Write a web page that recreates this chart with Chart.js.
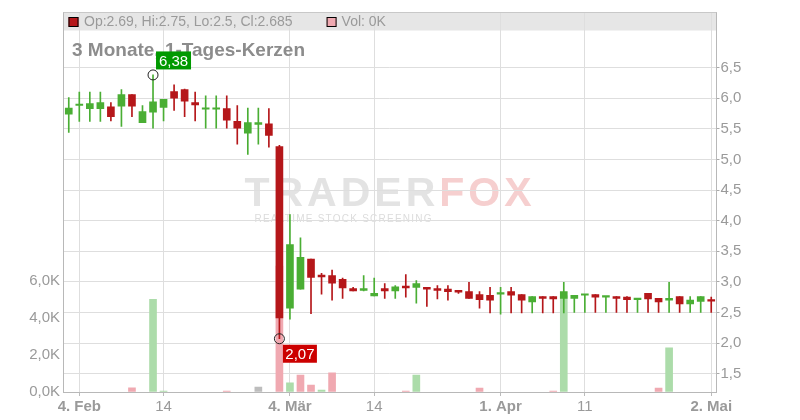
<!DOCTYPE html>
<html>
<head>
<meta charset="utf-8">
<script src="https://cdn.jsdelivr.net/npm/chart.js@4.4.0/dist/chart.umd.min.js"></script>
<style>
  html, body { margin: 0; padding: 0; background: #fff; }
  canvas { display: block; }
</style>
</head>
<body>
<canvas id="chart" width="800" height="420"></canvas>
<script>
// trading days (Xetra calendar, Feb 3 - May 2 2025)
const days = [
  '2025-02-03','2025-02-04','2025-02-05','2025-02-06','2025-02-07',
  '2025-02-10','2025-02-11','2025-02-12','2025-02-13','2025-02-14',
  '2025-02-17','2025-02-18','2025-02-19','2025-02-20','2025-02-21',
  '2025-02-24','2025-02-25','2025-02-26','2025-02-27','2025-02-28',
  '2025-03-03','2025-03-04','2025-03-05','2025-03-06','2025-03-07',
  '2025-03-10','2025-03-11','2025-03-12','2025-03-13','2025-03-14',
  '2025-03-17','2025-03-18','2025-03-19','2025-03-20','2025-03-21',
  '2025-03-24','2025-03-25','2025-03-26','2025-03-27','2025-03-28',
  '2025-03-31','2025-04-01','2025-04-02','2025-04-03','2025-04-04',
  '2025-04-07','2025-04-08','2025-04-09','2025-04-10','2025-04-11',
  '2025-04-14','2025-04-15','2025-04-16','2025-04-17',
  '2025-04-22','2025-04-23','2025-04-24','2025-04-25',
  '2025-04-28','2025-04-29','2025-04-30','2025-05-02'
];
const opens = [
  5.74, 5.88, 5.83, 5.83, 5.86,  5.87, 6.06, 5.60, 5.77, 5.85,
  6.11, 6.14, 5.93, 5.82, 5.82,  5.83, 5.62, 5.43, 5.57, 5.58,
  5.21, 2.57, 2.88, 3.37, 3.11,  3.10, 3.04, 2.89, 2.86, 2.77,
  2.89, 2.85, 2.93, 2.91, 2.91,  2.89, 2.88, 2.86, 2.84, 2.79,
  2.78, 2.80, 2.84, 2.79, 2.67,  2.76, 2.76, 2.73, 2.73, 2.78,
  2.79, 2.75, 2.76, 2.75,  2.71, 2.81, 2.73, 2.70,  2.76, 2.64, 2.68, 2.69
];
const highs = [
  6.01, 6.10, 6.10, 6.10, 5.93,  6.14, 6.06, 5.88, 6.38, 5.98,
  6.22, 6.15, 6.10, 6.04, 6.04,  6.04, 5.88, 5.84, 5.84, 5.83,
  5.23, 4.10, 3.72, 3.37, 3.14,  3.19, 3.06, 2.91, 3.10, 3.06,
  2.97, 2.94, 3.12, 3.02, 2.91,  2.94, 2.94, 2.86, 2.99, 2.84,
  2.91, 2.91, 2.91, 2.79, 2.76,  2.76, 2.76, 2.99, 2.78, 2.79,
  2.79, 2.76, 2.76, 2.76,  2.73, 2.81, 2.73, 2.99,  2.76, 2.76, 2.76, 2.75
];
const lows = [
  5.44, 5.62, 5.62, 5.62, 5.63,  5.54, 5.70, 5.60, 5.51, 5.63,
  5.80, 5.70, 5.63, 5.51, 5.51,  5.51, 5.25, 5.08, 5.25, 5.20,
  2.07, 2.39, 2.88, 2.48, 2.80,  2.70, 2.73, 2.85, 2.85, 2.77,
  2.73, 2.73, 2.75, 2.65, 2.60,  2.72, 2.70, 2.81, 2.73, 2.57,
  2.49, 2.47, 2.49, 2.49, 2.49,  2.49, 2.49, 2.49, 2.50, 2.50,
  2.50, 2.50, 2.50, 2.50,  2.50, 2.50, 2.50, 2.50,  2.50, 2.50, 2.50, 2.50
];
const closes = [
  5.84, 5.89, 5.91, 5.93, 5.70,  6.06, 5.87, 5.78, 5.94, 5.98,
  6.00, 5.95, 5.89, 5.83, 5.83,  5.64, 5.51, 5.60, 5.60, 5.39,
  2.41, 3.61, 3.40, 3.07, 3.08,  2.98, 2.90, 2.85, 2.89, 2.81,
  2.85, 2.92, 2.90, 2.97, 2.88,  2.86, 2.84, 2.83, 2.73, 2.71,
  2.70, 2.81, 2.78, 2.70, 2.76,  2.73, 2.72, 2.84, 2.78, 2.79,
  2.75, 2.76, 2.73, 2.71,  2.72, 2.72, 2.67, 2.73,  2.64, 2.70, 2.76, 2.685
];
const volumes = [
  0, 0, 0, 0, 0,  0, 230, 0, 5000, 50,
  0, 0, 0, 0, 0,  50, 0, 0, 270, 0,
  6800, 490, 920, 380, 100,  1030, 0, 0, 0, 0,
  0, 0, 50, 920, 0,  0, 0, 0, 0, 210,
  0, 0, 0, 0, 0,  0, 50, 5200, 0, 0,
  0, 0, 0, 0,  0, 0, 210, 2380,  0, 0, 0, 0
];

const tickDays = ['2025-02-04','2025-02-14','2025-03-04','2025-03-14','2025-04-01','2025-04-11','2025-05-02'];
const tickTexts = ['4. Feb','14','4. Mär','14','1. Apr','11','2. Mai'];
const priceTicks = [1.5, 2, 2.5, 3, 3.5, 4, 4.5, 5, 5.5, 6, 6.5];
const volumeTicks = [0, 2000, 4000, 6000];

const FONT = "'Liberation Sans', Arial, sans-serif";
const UP = '#4aae34', DOWN = '#b5171a';
const VOL_UP = '#acdcaa', VOL_DOWN = '#f0a9b1', VOL_FLAT = '#bdbdbd';
const TXT = '#9a9a9a';

const candleColors = closes.map((c, i) => c >= opens[i] ? UP : DOWN);
const volColors = closes.map((c, i) => i === 0 || c > closes[i - 1] ? VOL_UP : (c < closes[i - 1] ? VOL_DOWN : VOL_FLAT));

const hiIdx = highs.indexOf(Math.max(...highs));
const loIdx = lows.indexOf(Math.min(...lows));
const markers = days.map((d, i) => i === hiIdx ? highs[i] : (i === loIdx ? lows[i] : null));

const fmt = v => v.toFixed(2).replace('.', ',');

function badge(ctx, text, x, y, w, h, bg) {
  ctx.fillStyle = bg;
  ctx.fillRect(x, y, w, h);
  ctx.fillStyle = '#fff';
  ctx.font = '15px ' + FONT;
  ctx.textAlign = 'center';
  ctx.textBaseline = 'middle';
  ctx.fillText(text, x + w / 2, y + h / 2 + 1);
}

const decor = {
  id: 'decor',
  beforeDraw(chart) {
    const { ctx, chartArea: a } = chart;
    ctx.save();
    ctx.fillStyle = '#fff';
    ctx.fillRect(0, 0, chart.width, chart.height);

    // watermark
    const cx = (a.left + a.right) / 2, my = (a.top + a.bottom) / 2;
    ctx.font = 'bold 41px ' + FONT;
    ctx.letterSpacing = '4px';
    const w1 = ctx.measureText('TRADER').width, w2 = ctx.measureText('FOX').width;
    const x0 = cx - (w1 + w2) / 2;
    ctx.textAlign = 'left';
    ctx.textBaseline = 'alphabetic';
    ctx.fillStyle = '#e3e3e3';
    ctx.fillText('TRADER', x0, my + 4);
    ctx.fillStyle = '#f6cfcf';
    ctx.fillText('FOX', x0 + w1, my + 4);
    ctx.font = '10px ' + FONT;
    ctx.letterSpacing = '0px';
    const sw = ctx.measureText('REALTIME STOCK SCREENING').width;
    ctx.letterSpacing = ((177 - sw) / 23).toFixed(2) + 'px';
    ctx.fillStyle = '#dcdcdc';
    ctx.fillText('REALTIME STOCK SCREENING', x0 + 10, my + 20);
    ctx.letterSpacing = '0px';

    // legend band
    ctx.fillStyle = '#e6e6e6';
    ctx.fillRect(a.left, a.top, a.right - a.left, 18);
    ctx.restore();
  },
  afterDraw(chart) {
    const { ctx, chartArea: a, scales } = chart;
    const n = days.length - 1;
    ctx.save();
    // top border
    ctx.strokeStyle = '#c8c8c8';
    ctx.lineWidth = 1;
    ctx.beginPath();
    ctx.moveTo(a.left, Math.round(a.top) - 0.5);
    ctx.lineTo(a.right, Math.round(a.top) - 0.5);
    ctx.stroke();

    // legend content
    ctx.fillStyle = candleColors[n];
    ctx.fillRect(a.left + 5, a.top + 4.5, 10, 10);
    ctx.strokeStyle = '#000';
    ctx.strokeRect(a.left + 5.5, a.top + 5, 9, 9);
    ctx.font = '14px ' + FONT;
    ctx.textAlign = 'left';
    ctx.textBaseline = 'middle';
    ctx.fillStyle = TXT;
    const legTxt = 'Op:' + opens[n] + ', Hi:' + highs[n] + ', Lo:' + lows[n] + ', Cl:' + closes[n];
    const lx = a.left + 20.5;
    ctx.fillText(legTxt, lx, a.top + 10);
    const vx = lx + ctx.measureText(legTxt).width + 34;
    ctx.fillStyle = volColors[n];
    ctx.fillRect(vx, a.top + 4.5, 10, 10);
    ctx.strokeRect(vx + 0.5, a.top + 5, 9, 9);
    ctx.fillStyle = TXT;
    ctx.fillText('Vol: ' + (volumes[n] / 1000) + 'K', vx + 15, a.top + 10);

    // title
    ctx.font = 'bold 19px ' + FONT;
    ctx.fillStyle = '#8c8c8c';
    ctx.textBaseline = 'alphabetic';
    ctx.fillText('3 Monate, 1-Tages-Kerzen', a.left + 8.5, a.top + 43);

    // high / low badges
    const hx = scales.x.getPixelForValue(hiIdx), hy = scales.y.getPixelForValue(highs[hiIdx]);
    badge(ctx, fmt(highs[hiIdx]), hx + 3, hy - 23.5, 35, 18, '#009900');
    const lwx = scales.x.getPixelForValue(loIdx), lwy = scales.y.getPixelForValue(lows[loIdx]);
    badge(ctx, fmt(lows[loIdx]), lwx + 3.5, lwy + 6, 34, 18, '#cc0000');
    ctx.restore();
  }
};

Chart.defaults.font.family = FONT;

new Chart(document.getElementById('chart'), {
  type: 'bar',
  data: {
    labels: days,
    datasets: [
      {
        type: 'line', data: markers, yAxisID: 'y', order: 0,
        showLine: false, pointRadius: 5, pointBorderWidth: 1,
        pointBorderColor: '#222', pointBackgroundColor: 'rgba(0,0,0,0)'
      },
      {
        data: opens.map((o, i) => [o, closes[i]]), yAxisID: 'y', order: 1,
        backgroundColor: candleColors, barThickness: 7, minBarLength: 1.5, grouped: false
      },
      {
        data: lows.map((l, i) => [l, highs[i]]), yAxisID: 'y', order: 2,
        backgroundColor: candleColors, barThickness: 1, grouped: false
      },
      {
        // days without turnover get no bar at all
        data: volumes.map(v => v || null), yAxisID: 'yv', order: 3,
        backgroundColor: volColors, barThickness: 7, grouped: false
      }
    ]
  },
  options: {
    responsive: false,
    animation: false,
    devicePixelRatio: 1,
    events: [],
    layout: { padding: { top: 12, left: 0, right: 0, bottom: 0 } },
    plugins: { legend: { display: false }, tooltip: { enabled: false } },
    scales: {
      x: {
        type: 'category',
        offset: true,
        grid: { offset: false, color: '#dedede', tickLength: 4, tickColor: '#bbb' },
        border: { color: '#b8b8b8' },
        afterBuildTicks: s => { s.ticks = tickDays.map(d => ({ value: days.indexOf(d) })); },
        ticks: {
          autoSkip: false, maxRotation: 0, padding: 2, color: TXT,
          callback: v => tickTexts[tickDays.indexOf(days[v])],
          font: c => ({ family: FONT, size: 15, weight: /\D/.test(tickTexts[c.index] || '') ? 'bold' : 'normal' })
        },
        afterFit: s => { s.height = 28; }
      },
      y: {
        position: 'right',
        min: 1.2, max: 7.4,
        grid: { color: '#dedede', tickLength: 3, tickColor: '#aaa' },
        border: { color: '#b8b8b8' },
        afterBuildTicks: s => { s.ticks = priceTicks.map(v => ({ value: v })); },
        ticks: { padding: 1, color: TXT, font: { size: 15 }, callback: v => v.toFixed(1).replace('.', ',') },
        afterFit: s => { s.width = 83.5; }
      },
      yv: {
        position: 'left',
        min: 0, max: 20500,
        grid: { drawOnChartArea: false, drawTicks: false },
        border: { display: true, color: '#b8b8b8' },
        afterBuildTicks: s => { s.ticks = volumeTicks.map(v => ({ value: v })); },
        ticks: { padding: 3.5, color: TXT, font: { size: 15 }, callback: v => (v / 1000).toFixed(1).replace('.', ',') + 'K' },
        afterFit: s => { s.width = 63.5; }
      }
    }
  },
  plugins: [decor]
});
</script>
</body>
</html>
